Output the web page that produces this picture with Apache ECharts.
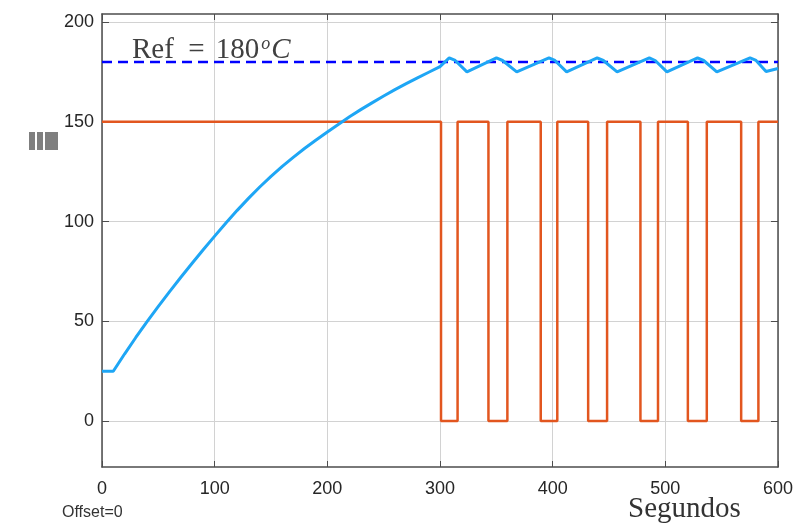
<!DOCTYPE html>
<html>
<head>
<meta charset="utf-8">
<script src="https://cdn.jsdelivr.net/npm/echarts@6/dist/echarts.min.js"></script>
<style>
  html, body { margin: 0; padding: 0; background: #fff; }
  #chart { width: 799px; height: 523px; }
</style>
</head>
<body>
<div id="chart"></div>
<script>
// Temperature response (seconds, degrees)
const tempTime = [0, 10, 20, 30, 40, 50, 60, 70, 80, 90, 100, 110, 120, 130, 140, 150, 160, 170, 180, 190, 200,
    210, 220, 230, 240, 250, 260, 270, 280, 290, 300,
    308.2, 313.5, 323.9, 350.1, 355.5, 368.1, 396.7, 402, 412.4, 439.5, 445, 457.2,
    485.8, 491, 501.4, 528.6, 534, 545.7, 575.2, 580.5, 589.4, 600];
const tempValue = [25, 25, 33.6, 41.9, 49.9, 57.5, 64.9, 72.1, 79.1, 86, 92.7, 99.3, 105.6, 111.6, 117.3, 122.6, 127.6, 132.3, 136.7, 140.9, 144.9,
    148.8, 152.6, 156.2, 159.6, 162.9, 166.1, 169.1, 172, 174.8, 177.6,
    182, 180.7, 175, 182, 180.7, 175, 182, 180.7, 175, 182, 180.7, 175,
    182, 180.7, 175, 182, 180.7, 175, 182, 180.7, 175.2, 176.7];

// Heater on/off switching instants
const heatTime = [0, 300.9, 315.6, 343, 359.8, 389.4, 404.1, 431.5, 448.3, 477.9, 493.5, 520, 536.8, 567.3, 582.6, 600];
const heatValue = [150, 0, 150, 0, 150, 0, 150, 0, 150, 0, 150, 0, 150, 0, 150, 150];

const refValue = 180;
const xTicks = [0, 100, 200, 300, 400, 500, 600];
const yTicks = [0, 50, 100, 150, 200];

const pairs = (xs, ys) => xs.map((x, i) => [x, ys[i]]);

const chart = echarts.init(document.getElementById('chart'));

const frameColor = '#4d4d4d';
const gridColor = '#d2d2d2';
const labelFont = { fontFamily: 'Liberation Sans', fontSize: 18, color: '#262626' };

const option = {
    animation: false,
    backgroundColor: '#fff',
    grid: { left: 102, right: 21, top: 14, bottom: 56 },
    xAxis: [{
        type: 'value',
        min: xTicks[0],
        max: xTicks[xTicks.length - 1],
        interval: 100,
        axisLine: { show: true, onZero: false, lineStyle: { color: frameColor, width: 1.5 } },
        axisTick: { show: true, inside: true, length: 6, lineStyle: { color: frameColor } },
        axisLabel: Object.assign({ margin: 13 }, labelFont),
        splitLine: { show: true, lineStyle: { color: gridColor, width: 1 } }
    }, {
        type: 'value',
        position: 'top',
        min: 0, max: 600, interval: 100,
        axisLine: { show: true, onZero: false, lineStyle: { color: frameColor, width: 1.5 } },
        axisTick: { show: true, inside: true, length: 6, lineStyle: { color: frameColor } },
        axisLabel: { show: false },
        splitLine: { show: false }
    }],
    yAxis: [{
        type: 'value',
        min: -23,
        max: 204,
        axisLine: { show: true, onZero: false, lineStyle: { color: frameColor, width: 1.5 } },
        axisTick: { show: true, inside: true, length: 7, lineStyle: { color: frameColor },
            customValues: yTicks },
        axisLabel: Object.assign({ margin: 8, customValues: yTicks }, labelFont),
        splitLine: { show: true, lineStyle: { color: gridColor, width: 1 } }
    }, {
        type: 'value',
        position: 'right',
        min: -23, max: 204,
        axisLine: { show: true, onZero: false, lineStyle: { color: frameColor, width: 1.5 } },
        axisTick: { show: true, inside: true, length: 7, lineStyle: { color: frameColor },
            customValues: yTicks },
        axisLabel: { show: false },
        splitLine: { show: false }
    }],
    series: [{
        name: 'Ref',
        type: 'line',
        data: [[0, refValue], [600, refValue]],
        showSymbol: false,
        lineStyle: { color: '#0000ff', width: 2.5, type: [10, 6] },
        z: 2
    }, {
        name: 'Calefactor',
        type: 'line',
        step: 'end',
        data: pairs(heatTime, heatValue),
        showSymbol: false,
        lineStyle: { color: '#e2561f', width: 2.5 },
        z: 3
    }, {
        name: 'Temperatura',
        type: 'line',
        data: pairs(tempTime, tempValue),
        showSymbol: false,
        lineStyle: { color: '#1ea6f5', width: 3 },
        z: 4
    }],
    graphic: [{
        type: 'text',
        left: 132,
        top: 35,
        style: {
            text: '{a|Ref  =}{b|180}{sup|o}{it|C}',
            rich: {
                a: { fontFamily: 'Liberation Serif', fontSize: 29, fill: '#404040', lineHeight: 30 },
                b: { fontFamily: 'Liberation Serif', fontSize: 29, fill: '#404040', lineHeight: 30,
                    padding: [0, 0, 0, 11] },
                sup: { fontFamily: 'Liberation Serif', fontStyle: 'italic', fontSize: 18, fill: '#404040',
                    verticalAlign: 'top', lineHeight: 30, padding: [0, 1, 14, 2] },
                it: { fontFamily: 'Liberation Serif', fontStyle: 'italic', fontSize: 29, fill: '#404040', lineHeight: 30 }
            }
        }
    }, {
        type: 'text',
        left: 628,
        top: 495,
        style: { text: 'Segundos', fontFamily: 'Liberation Serif', fontSize: 29, fill: '#333' }
    }, {
        type: 'text',
        left: 62,
        top: 505,
        style: { text: 'Offset=0', fontFamily: 'Liberation Sans', fontSize: 16, fill: '#333' }
    }, {
        type: 'group',
        left: 29,
        top: 132,
        children: [
            { type: 'rect', shape: { x: 0, y: 0, width: 6, height: 18 }, style: { fill: '#7f7f7f' } },
            { type: 'rect', shape: { x: 8, y: 0, width: 6, height: 18 }, style: { fill: '#7f7f7f' } },
            { type: 'rect', shape: { x: 16, y: 0, width: 13, height: 18 }, style: { fill: '#7f7f7f' } }
        ]
    }]
};

chart.setOption(option);
window.addEventListener('resize', () => chart.resize());
</script>
</body>
</html>
